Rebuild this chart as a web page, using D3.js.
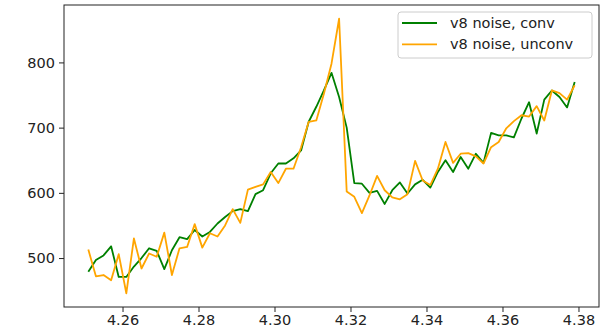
<!DOCTYPE html>
<html>
<head>
<meta charset="utf-8">
<script src="https://cdn.jsdelivr.net/npm/d3@7"></script>
<style>
    body { margin: 0; background: #fff; }
    svg { display: block; font-family: "DejaVu Sans", sans-serif; }
</style>
</head>
<body>
<svg id="chart" width="608" height="330"></svg>
<script>
// time values shared by both runs
const xValues = [
    4.251, 4.253, 4.255, 4.257, 4.259, 4.261, 4.263, 4.265, 4.267, 4.269,
    4.271, 4.273, 4.275, 4.277, 4.279, 4.281, 4.283, 4.285, 4.287, 4.289,
    4.291, 4.293, 4.295, 4.297, 4.299, 4.301, 4.303, 4.305, 4.307, 4.309,
    4.311, 4.313, 4.315, 4.317, 4.319, 4.321, 4.323, 4.325, 4.327, 4.329,
    4.331, 4.333, 4.335, 4.337, 4.339, 4.341, 4.343, 4.345, 4.347, 4.349,
    4.351, 4.353, 4.355, 4.357, 4.359, 4.361, 4.363, 4.365, 4.367, 4.369,
    4.371, 4.373, 4.375, 4.377, 4.379
];
const convValues = [
    479, 497, 504, 518, 471, 471, 487, 500, 515, 511,
    483, 512, 532, 529, 543, 533, 540, 553, 563, 572,
    575, 572, 598, 604, 630, 645, 645, 653, 665, 709,
    732, 757, 784, 747, 700, 615, 614, 600, 603, 583,
    604, 616, 599, 613, 620, 608, 632, 650, 632, 655,
    637, 660, 646, 692, 688, 688, 685, 714, 739, 691,
    743, 757, 747, 731, 770
];
const unconvValues = [
    513, 472, 474, 466, 506, 446, 530, 484, 507, 502,
    539, 474, 515, 517, 552, 516, 538, 533, 550, 575,
    554, 605, 609, 613, 632, 615, 637, 637, 670, 709,
    711, 752, 798, 867, 602, 594, 569, 596, 626, 604,
    593, 590, 598, 649, 619, 612, 637, 678, 646, 660,
    661, 656, 645, 670, 678, 699, 710, 719, 717, 733,
    711, 757, 753, 743, 765
];
const seriesNames = ["v8 noise, conv", "v8 noise, unconv"];
const seriesColors = ["green", "orange"];
const xTickValues = [4.26, 4.28, 4.30, 4.32, 4.34, 4.36, 4.38];
const yTickValues = [500, 600, 700, 800];

const svg = d3.select("#chart");
const margin = { left: 64, right: 9, top: 5, bottom: 23 };
const width = 608 - margin.left - margin.right;
const height = 330 - margin.top - margin.bottom;

const g = svg.append("g")
    .attr("transform", `translate(${margin.left},${margin.top})`);

// matplotlib style 5% padding around the data
const pad = (ext) => {
    const d = (ext[1] - ext[0]) * 0.05;
    return [ext[0] - d, ext[1] + d];
};
const allY = convValues.concat(unconvValues);

const xScale = d3.scaleLinear()
    .domain(pad(d3.extent(xValues)))
    .range([0, width]);
const yScale = d3.scaleLinear()
    .domain(pad(d3.extent(allY)))
    .range([height, 0]);

//axes
const xAxis = d3.axisBottom(xScale)
    .tickValues(xTickValues)
    .tickFormat(d3.format(".2f"))
    .tickSize(5)
    .tickPadding(3);
const yAxis = d3.axisLeft(yScale)
    .tickValues(yTickValues)
    .tickSize(5)
    .tickPadding(4);

const xg = g.append("g")
    .attr("transform", `translate(0,${height})`)
    .call(xAxis);
const yg = g.append("g")
    .call(yAxis);

[xg, yg].forEach(ax => {
    ax.select(".domain").remove();
    ax.selectAll(".tick line").attr("stroke", "#222").attr("stroke-width", 1);
    ax.selectAll(".tick text")
        .attr("fill", "#222")
        .style("font-size", "14.5px")
        .style("font-family", "DejaVu Sans");
});

//lines
const series = [convValues, unconvValues].map((vals, i) => ({
    name: seriesNames[i],
    color: seriesColors[i],
    points: vals.map((v, j) => ({ x: xValues[j], y: v }))
}));

const line = d3.line()
    .x(d => xScale(d.x))
    .y(d => yScale(d.y));

g.selectAll(".series")
    .data(series)
    .enter()
    .append("path")
    .attr("class", "series")
    .attr("fill", "none")
    .attr("stroke", d => d.color)
    .attr("stroke-width", 1.8)
    .attr("stroke-linejoin", "round")
    .attr("d", d => line(d.points));

// frame (all four spines)
g.append("rect")
    .attr("x", 0)
    .attr("y", 0)
    .attr("width", width)
    .attr("height", height)
    .attr("fill", "none")
    .attr("stroke", "#222")
    .attr("stroke-width", 1);

//legend
const legend = svg.append("g")
    .attr("transform", "translate(398,12)");
legend.append("rect")
    .attr("width", 194)
    .attr("height", 46)
    .attr("rx", 3)
    .attr("fill", "#fff")
    .attr("fill-opacity", 0.8)
    .attr("stroke", "#ccc");

const lg = legend.selectAll(".entry")
    .data(series)
    .enter()
    .append("g")
    .attr("class", "entry")
    .attr("transform", (d, i) => `translate(0,${11 + i * 21.3})`);
lg.append("line")
    .attr("x1", 4)
    .attr("x2", 39)
    .attr("stroke", d => d.color)
    .attr("stroke-width", 1.8);
lg.append("text")
    .attr("x", 52)
    .attr("y", 5)
    .attr("fill", "#222")
    .style("font-size", "14.5px")
    .text(d => d.name);
</script>
</body>
</html>
